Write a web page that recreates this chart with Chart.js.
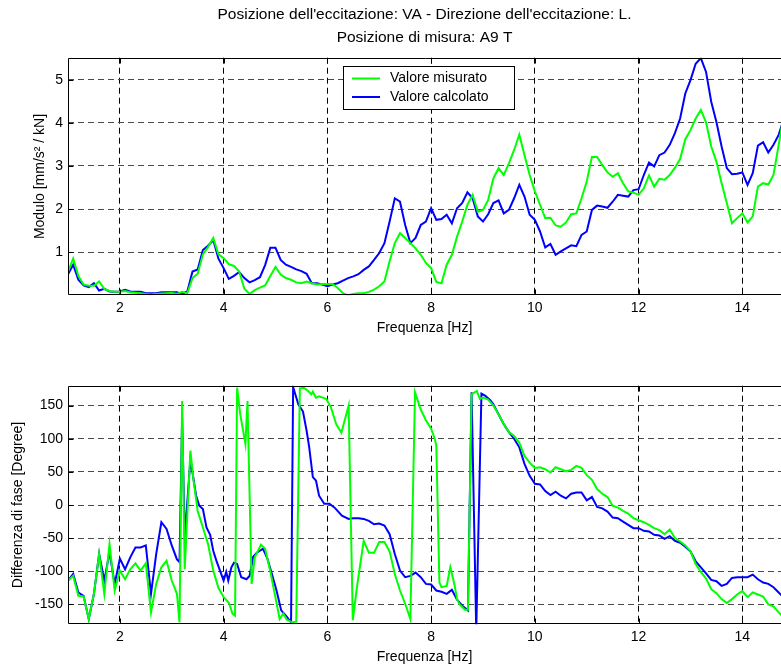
<!DOCTYPE html>
<html>
<head>
<meta charset="utf-8">
<script src="https://cdn.jsdelivr.net/npm/chart.js@4.4.1/dist/chart.umd.min.js"></script>
<style>
  html, body { margin: 0; padding: 0; background: #fff; overflow: hidden; width: 781px; height: 664px; }
  .wrap { position: absolute; left: 0; width: 781px; }
  #w1 { top: 0; height: 340px; }
  #w2 { top: 340px; height: 334px; }
</style>
</head>
<body>
<div class="wrap" id="w1"><canvas id="c1" width="781" height="340"></canvas></div>
<div class="wrap" id="w2"><canvas id="c2" width="781" height="334"></canvas></div>
<script>
// ---------- DATA ----------
const titleLines = ["Posizione dell'eccitazione: VA - Direzione dell'eccitazione: L.", "Posizione di misura: A9 T"];
const seriesNames = ["Valore misurato", "Valore calcolato"];
const xAxisLabel = "Frequenza [Hz]";
const magAxisLabel = "Modulo [mm/s\u00B2 / kN]";
const phaseAxisLabel = "Differenza di fase [Degree]";
const freqTicks = [2, 4, 6, 8, 10, 12, 14];
const magTicks = [1, 2, 3, 4, 5];
const phaseTicks = [-150, -100, -50, 0, 50, 100, 150];

// Magnitude (0.1 Hz steps)
const freq = [1.0,1.1,1.2,1.3,1.4,1.5,1.6,1.7,1.8,1.9,2.0,2.1,2.2,2.3,2.4,2.5,2.6,2.7,2.8,2.9,
  3.0,3.1,3.2,3.3,3.4,3.5,3.6,3.7,3.8,3.9,4.0,4.1,4.2,4.3,4.4,4.5,4.6,4.7,4.8,4.9,
  5.0,5.1,5.2,5.3,5.4,5.5,5.6,5.7,5.8,5.9,6.0,6.1,6.2,6.3,6.4,6.5,6.6,6.7,6.8,6.9,
  7.0,7.1,7.2,7.3,7.4,7.5,7.6,7.7,7.8,7.9,8.0,8.1,8.2,8.3,8.4,8.5,8.6,8.7,8.8,8.9,
  9.0,9.1,9.2,9.3,9.4,9.5,9.6,9.7,9.8,9.9,10.0,10.1,10.2,10.3,10.4,10.5,10.6,10.7,10.8,10.9,
  11.0,11.1,11.2,11.3,11.4,11.5,11.6,11.7,11.8,11.9,12.0,12.1,12.2,12.3,12.4,12.5,12.6,12.7,12.8,12.9,
  13.0,13.1,13.2,13.3,13.4,13.5,13.6,13.7,13.8,13.9,14.0,14.1,14.2,14.3,14.4,14.5,14.6,14.7,14.8];

const magMeasured = [0.55,0.85,0.45,0.25,0.22,0.22,0.32,0.15,0.10,0.08,0.08,0.10,0.07,0.06,0.05,0.03,0.02,0.03,0.04,0.05,
  0.06,0.03,0.08,0.05,0.40,0.50,0.95,1.12,1.33,0.95,0.86,0.72,0.68,0.55,0.15,0.03,0.12,0.18,0.23,0.45,
  0.66,0.48,0.40,0.36,0.30,0.28,0.32,0.28,0.25,0.26,0.26,0.26,0.17,0.05,0.00,0.03,0.05,0.05,0.08,0.13,
  0.21,0.32,0.79,1.21,1.44,1.33,1.21,1.09,0.94,0.75,0.63,0.31,0.28,0.71,0.94,1.36,1.71,2.10,2.33,1.94,
  1.98,2.21,2.71,2.95,2.79,3.06,3.37,3.73,3.25,2.79,2.41,2.10,1.79,1.80,1.62,1.59,1.69,1.88,1.90,2.25,
  2.64,3.21,3.21,3.02,2.85,2.75,2.83,2.60,2.41,2.38,2.33,2.48,2.78,2.52,2.70,2.68,2.79,2.96,3.16,3.62,
  3.83,4.10,4.30,4.01,3.45,3.10,2.60,2.14,1.67,1.79,1.90,1.69,1.83,2.52,2.60,2.57,2.79,3.49,4.18];

const magCalculated = [0.49,0.71,0.36,0.23,0.19,0.28,0.11,0.15,0.09,0.08,0.09,0.13,0.09,0.08,0.08,0.05,0.05,0.05,0.07,0.07,
  0.07,0.07,0.03,0.09,0.55,0.60,1.05,1.15,1.28,0.85,0.63,0.38,0.45,0.54,0.40,0.30,0.35,0.42,0.70,1.10,
  1.10,0.82,0.71,0.66,0.60,0.56,0.50,0.28,0.28,0.25,0.21,0.25,0.28,0.34,0.40,0.44,0.49,0.59,0.67,0.82,
  0.98,1.21,1.71,2.25,2.17,1.63,1.21,1.33,1.63,1.71,2.02,1.75,1.77,1.87,1.67,2.02,2.14,2.39,2.25,1.83,
  1.71,1.88,2.14,2.20,1.90,1.98,2.25,2.56,2.29,1.87,1.75,1.48,1.11,1.19,0.94,1.02,1.09,1.16,1.14,1.40,
  1.48,1.98,2.08,2.06,2.03,2.17,2.33,2.31,2.29,2.44,2.46,2.79,3.08,2.99,3.25,3.31,3.49,3.76,4.10,4.68,
  4.99,5.37,5.50,5.18,4.49,4.02,3.45,2.95,2.81,2.82,2.85,2.56,2.83,3.47,3.55,3.31,3.49,3.72,4.10];

// Phase, measured
const phaseFreqMeasured = [1.0,1.1,1.2,1.3,1.4,1.5,1.6,1.7,1.8,1.9,2.0,2.1,2.2,2.3,2.4,2.5,2.6,2.7,2.8,2.9,
  3.0,3.1,3.15,3.2,3.25,3.36,3.42,3.5,3.6,3.7,3.8,3.9,4.0,4.1,4.17,4.22,4.26,4.32,4.42,4.46,4.54,4.6,4.72,4.8,4.9,
  5.0,5.08,5.15,5.22,5.32,5.4,5.47,5.55,5.63,5.69,5.72,5.78,5.84,5.91,5.98,6.07,6.17,6.27,6.41,6.49,6.57,6.7,6.8,6.9,
  7.0,7.1,7.2,7.3,7.4,7.5,7.6,7.69,7.8,7.9,8.0,8.07,8.1,8.16,8.2,8.3,8.37,8.45,8.5,8.55,8.65,8.71,8.78,8.88,8.94,
  9.0,9.1,9.2,9.3,9.4,9.5,9.6,9.7,9.8,9.9,10.0,10.1,10.2,10.3,10.4,10.5,10.6,10.7,10.8,10.9,
  11.0,11.1,11.2,11.3,11.4,11.5,11.6,11.7,11.8,11.9,12.0,12.1,12.2,12.3,12.4,12.5,12.6,12.7,12.8,12.9,
  13.0,13.1,13.2,13.3,13.4,13.5,13.6,13.7,13.8,13.9,14.0,14.1,14.2,14.3,14.4,14.5,14.6,14.7,14.8];
const phaseMeasured = [-114,-107,-137,-138,-172,-134,-74,-134,-59,-129,-99,-112,-97,-88,-99,-88,-162,-119,-94,-84,
  -114,-134,-177,157,-97,82,37,-9,-34,-59,-99,-125,-139,-147,-164,-167,177,137,92,157,-119,-79,-60,-66,-100,
  -140,-172,-164,-173,-177,-176,176,177,172,167,171,162,164,162,160,147,122,109,150,-174,-124,-54,-72,-72,
  -56,-56,-70,-104,-129,-149,-172,170,144,128,115,100,90,-117,-124,-122,-94,-120,-142,-150,-158,-158,167,172,160,
  162,159,150,137,122,110,104,94,74,64,56,57,54,49,57,54,51,53,59,56,
  45,38,24,17,12,-1,-4,-9,-13,-20,-23,-26,-30,-35,-38,-44,-37,-50,-55,-61,
  -70,-89,-101,-111,-127,-133,-142,-148,-142,-135,-130,-139,-132,-135,-138,-150,-153,-162,-170];

// Phase, calculated
const phaseFreqCalculated = [1.0,1.1,1.2,1.3,1.4,1.5,1.6,1.7,1.8,1.9,2.0,2.1,2.2,2.3,2.4,2.5,2.6,2.7,2.8,2.9,
  3.0,3.1,3.15,3.2,3.25,3.36,3.47,3.53,3.6,3.67,3.74,3.8,3.86,3.93,4.0,4.05,4.09,4.15,4.2,4.26,4.34,4.44,4.5,4.57,4.64,4.76,4.84,4.92,
  5.02,5.11,5.2,5.3,5.34,5.44,5.53,5.6,5.65,5.72,5.78,5.84,5.94,6.04,6.14,6.28,6.41,6.5,6.6,6.7,6.8,6.9,
  7.0,7.1,7.2,7.3,7.4,7.5,7.6,7.7,7.8,7.9,8.0,8.1,8.2,8.3,8.4,8.5,8.6,8.71,8.78,8.87,8.97,
  9.04,9.14,9.2,9.3,9.4,9.5,9.6,9.7,9.8,9.9,10.0,10.1,10.2,10.3,10.4,10.5,10.6,10.7,10.8,10.9,
  11.0,11.1,11.2,11.3,11.4,11.5,11.6,11.7,11.8,11.9,12.0,12.1,12.2,12.3,12.4,12.5,12.6,12.7,12.8,12.9,
  13.0,13.1,13.2,13.3,13.4,13.5,13.6,13.7,13.8,13.9,14.0,14.1,14.2,14.3,14.4,14.5,14.6,14.7,14.8];
const phaseCalculated = [-114,-104,-132,-137,-172,-134,-74,-114,-71,-119,-81,-97,-79,-64,-64,-61,-134,-74,-26,-36,
  -61,-82,-86,132,-49,69,14,-1,-6,-34,-45,-69,-84,-99,-114,-101,-114,-94,-87,-89,-109,-112,-107,-78,-72,-66,-80,-101,
  -129,-159,-167,-177,178,152,141,112,87,42,37,14,2,2,-4,-16,-21,-20,-20,-21,-24,-29,
  -28,-31,-44,-74,-99,-109,-107,-102,-109,-119,-120,-129,-131,-134,-128,-143,-152,-159,170,-190,168,
  165,158,152,137,122,110,100,87,62,44,32,31,21,15,20,14,10,17,19,19,
  7,12,-3,-5,-10,-19,-20,-25,-30,-35,-35,-39,-40,-45,-46,-51,-47,-54,-57,-63,
  -70,-85,-94,-103,-113,-115,-122,-119,-110,-109,-109,-109,-105,-112,-117,-119,-124,-132,-140];

// ---------- STYLE / HELPERS ----------
const FONT = "'Liberation Sans', Arial, Helvetica, sans-serif";
const GREEN = '#00ff00', BLUE = '#0000ff';
const pairs = (xs, ys) => xs.map((v, i) => ({ x: v, y: ys[i] }));

const framePlugin = {
  id: 'frame',
  afterDatasetsDraw(chart, args, opts) {
    const { ctx, chartArea: a, scales } = chart;
    const x = scales.x, y = scales.y;
    ctx.save();
    ctx.setLineDash([]);
    ctx.strokeStyle = '#000';
    ctx.lineWidth = 1;
    const L = Math.round(a.left) + 0.5, T = Math.round(a.top) + 0.5, B = Math.round(a.bottom) - 0.5, R = a.right + 30;
    ctx.beginPath();
    ctx.moveTo(R, T); ctx.lineTo(L, T); ctx.lineTo(L, B); ctx.lineTo(R, B);
    ctx.stroke();
    ctx.beginPath();
    x.ticks.forEach(t => {
      const px = Math.round(x.getPixelForValue(t.value)) + 0.5;
      ctx.moveTo(px, B); ctx.lineTo(px, B - 5);
      ctx.moveTo(px, T); ctx.lineTo(px, T + 5);
    });
    y.ticks.forEach(t => {
      const py = Math.round(y.getPixelForValue(t.value)) + 0.5;
      ctx.moveTo(L, py); ctx.lineTo(L + 5, py);
    });
    ctx.stroke();
    if (opts && opts.box) {
      const b = opts.box;
      ctx.fillStyle = '#fff';
      ctx.fillRect(b.x, b.y, b.w, b.h);
      ctx.strokeStyle = '#000';
      ctx.strokeRect(b.x + 0.5, b.y + 0.5, b.w, b.h);
      ctx.font = '14px ' + FONT;
      ctx.textBaseline = 'middle';
      ctx.textAlign = 'left';
      chart.data.datasets.forEach((ds, i) => {
        const ly = b.y + b.row0 + i * b.rowH;
        ctx.strokeStyle = ds.borderColor;
        ctx.lineWidth = 2;
        ctx.beginPath();
        ctx.moveTo(b.x + b.lineX0, ly); ctx.lineTo(b.x + b.lineX1, ly);
        ctx.stroke();
        ctx.fillStyle = '#000';
        ctx.fillText(ds.label, b.x + b.textX, ly);
      });
    }
    ctx.restore();
  }
};

function xScale(heightPx, titlePadBottom) {
  return {
    type: 'linear', min: 1, max: 14.745,
    afterBuildTicks: s => { s.ticks = freqTicks.map(v => ({ value: v })); },
    afterFit: s => { s.height = heightPx; },
    grid: { color: '#000', lineWidth: 1, drawTicks: false, borderDash: [6, 4] },
    border: { display: false, dash: [6, 4] },
    ticks: { color: '#000', padding: 4, autoSkip: false, maxRotation: 0, font: { family: FONT, size: 14 },
             callback: v => String(v) },
    title: { display: true, text: xAxisLabel, color: '#000', font: { family: FONT, size: 14 },
             padding: { top: 0, bottom: titlePadBottom } }
  };
}
function yScale(min, max, tickVals, label, titlePadTop) {
  return {
    type: 'linear', min: min, max: max,
    afterBuildTicks: s => { s.ticks = tickVals.map(v => ({ value: v })); },
    afterFit: s => { s.width = 68; },
    grid: { color: '#4a4a4a', lineWidth: 1, drawTicks: false, borderDash: [6, 4] },
    border: { display: false, dash: [6, 4] },
    ticks: { color: '#000', padding: 5, autoSkip: false, font: { family: FONT, size: 14 },
             callback: v => String(v) },
    title: { display: true, text: label, color: '#000', font: { family: FONT, size: 14 },
             padding: { top: titlePadTop, bottom: 0 } }
  };
}
function lineDs(label, data, color) {
  return { label, data, borderColor: color, backgroundColor: color, borderWidth: 2,
           pointRadius: 0, fill: false, tension: 0 };
}

new Chart(document.getElementById('c1'), {
  type: 'line',
  data: { datasets: [
    lineDs(seriesNames[0], pairs(freq, magMeasured), GREEN),
    lineDs(seriesNames[1], pairs(freq, magCalculated), BLUE)
  ]},
  options: {
    responsive: false, animation: false, devicePixelRatio: 1,
    layout: { padding: { left: 0, right: 0, top: 0, bottom: 0 } },
    plugins: {
      legend: { display: false }, tooltip: { enabled: false },
      title: { display: true, fullSize: false, text: titleLines, color: '#000',
               font: { family: FONT, size: 15.5, weight: 'normal', lineHeight: 1.484 },
               padding: { top: 3.5, bottom: 8.2 } },
      frame: { box: { x: 343, y: 66, w: 171, h: 43, row0: 12.5, rowH: 18.5, lineX0: 9, lineX1: 37, textX: 47 } }
    },
    scales: {
      x: xScale(44.7, 3.6),
      y: yScale(0, 5.51, magTicks, magAxisLabel, 31.6)
    }
  },
  plugins: [framePlugin]
});

new Chart(document.getElementById('c2'), {
  type: 'line',
  data: { datasets: [
    lineDs(seriesNames[0], pairs(phaseFreqMeasured, phaseMeasured), GREEN),
    lineDs(seriesNames[1], pairs(phaseFreqCalculated, phaseCalculated), BLUE)
  ]},
  options: {
    responsive: false, animation: false, devicePixelRatio: 1,
    layout: { padding: { left: 0, right: 0, top: 45.7, bottom: 0 } },
    plugins: { legend: { display: false }, tooltip: { enabled: false }, title: { display: false }, frame: {} },
    scales: {
      x: xScale(49.7, 8.6),
      y: yScale(-180, 180, phaseTicks, phaseAxisLabel, 9.6)
    }
  },
  plugins: [framePlugin]
});
</script>
</body>
</html>
